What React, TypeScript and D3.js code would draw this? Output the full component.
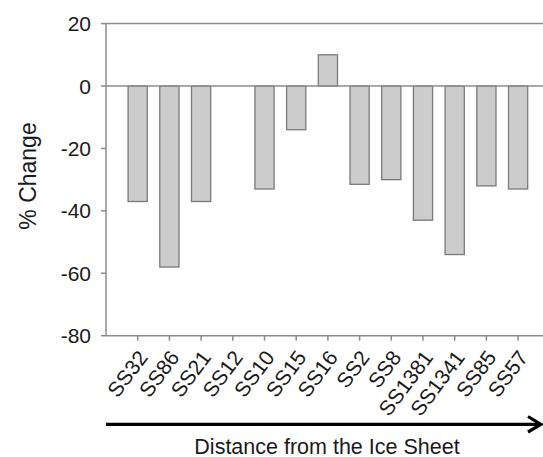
import React from "react";
import * as d3 from "d3";

const categories = ["SS32", "SS86", "SS21", "SS12", "SS10", "SS15", "SS16", "SS2", "SS8", "SS1381", "SS1341", "SS85", "SS57"];
const values = [-37, -58, -37, 0, -33, -14, 10, -31.5, -30, -43, -54, -32, -33];
const yTicks = [20, 0, -20, -40, -60, -80];
const yTitle = "% Change";
const xTitle = "Distance from the Ice Sheet";

const W = 543;
const H = 457;
const left = 106;
const top = 23.6;
const bottom = 335.7;
const step = 31.7;

export default function App() {
  const x = d3.scaleLinear().domain([0, categories.length + 1]).range([left, left + step * (categories.length + 1)]);
  const y = d3.scaleLinear().domain([-80, 20]).range([bottom, top]);
  const bw = 19.2;
  const axisColor = "#8c8c8c";
  const font = "'Liberation Sans', Arial, sans-serif";
  const right = x(categories.length + 1);
  return (
    <svg width={W} height={H} style={{ position: "absolute", left: 0, top: 0, background: "#fff" }} fontFamily={font}>
      <line x1={left} x2={right} y1={y(20)} y2={y(20)} stroke={axisColor} strokeWidth={1.5} />
      <line x1={left} x2={right} y1={y(-80)} y2={y(-80)} stroke={axisColor} strokeWidth={1.5} />
      <line x1={left} x2={left} y1={y(20)} y2={y(-80)} stroke={axisColor} strokeWidth={1.5} />
      {yTicks.map((t) => (
        <g key={t}>
          <line x1={left - 5} x2={left} y1={y(t)} y2={y(t)} stroke={axisColor} strokeWidth={1.5} />
          <text x={left - 15} y={y(t)} dy="0.36em" textAnchor="end" fontSize={21} fill="#1a1a1a">{t}</text>
        </g>
      ))}
      {categories.map((c, i) => (
        <line key={c} x1={x(i + 1)} x2={x(i + 1)} y1={bottom} y2={bottom + 5} stroke={axisColor} strokeWidth={1.5} />
      ))}
      {values.map((v, i) =>
        v === 0 ? null : (
          <rect
            key={categories[i]}
            x={x(i + 1) - bw / 2}
            y={y(Math.max(0, v))}
            width={bw}
            height={Math.abs(y(v) - y(0))}
            fill="#cccccc"
            stroke="#7a7a7a"
            strokeWidth={1.3}
          />
        )
      )}
      <line x1={left} x2={right} y1={y(0)} y2={y(0)} stroke={axisColor} strokeWidth={1.5} />
      {categories.map((c, i) => (
        <text
          key={c}
          transform={`translate(${x(i + 1) + 11},${bottom + 22}) rotate(-53)`}
          textAnchor="end"
          fontSize={21}
          fill="#1a1a1a"
        >
          {c}
        </text>
      ))}
      <text transform={`translate(36,176) rotate(-90)`} textAnchor="middle" fontSize={23} fill="#1a1a1a">{yTitle}</text>
      <line x1={left} x2={540} y1={424.3} y2={424.3} stroke="#000" strokeWidth={3.2} />
      <polyline points="528,416.5 541,424.3 528,432" fill="none" stroke="#000" strokeWidth={3.2} />
      <text x={327} y={453.5} textAnchor="middle" fontSize={21.5} fill="#1a1a1a">{xTitle}</text>
    </svg>
  );
}
